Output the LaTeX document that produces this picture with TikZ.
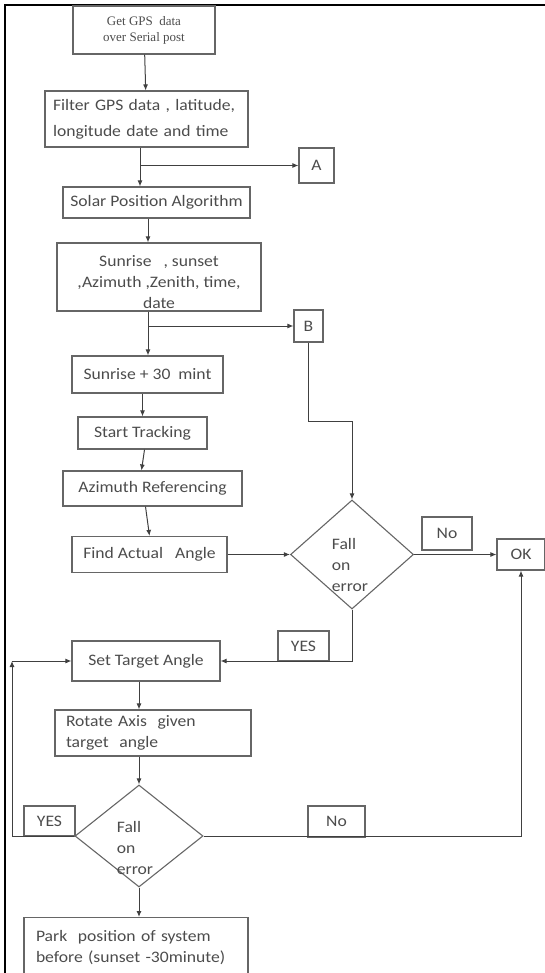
\documentclass[tikz,border=0pt]{standalone}
\usepackage{fontspec}
\setmainfont{Carlito}[FakeStretch=1.1]
\newfontfamily\timesfont{Liberation Serif}
\usetikzlibrary{arrows.meta, positioning, shapes.geometric}

\begin{document}
\begin{tikzpicture}[
    x=1pt, y=-1pt,
    box/.style={draw=black!60, line width=1.1pt, inner sep=0pt, text=black!70, font=\fontsize{16}{21}\selectfont, align=center},
    decision/.style={diamond, draw=black!60, line width=1.1pt, inner sep=0pt},
    dtext/.style={text=black!70, font=\fontsize{16}{21}\selectfont, align=left, inner sep=0pt},
    arr/.style={draw=black!75, line width=1pt, -{Latex[length=6pt,width=5pt]}},
    link/.style={draw=black!75, line width=1pt}
]
    \clip (0,0) rectangle (545,973);
    % page frame
    \draw[black, line width=1.3pt] (5,973) -- (5,5) -- (545,5);

    % upper chain
    \node[box, font=\timesfont\fontsize{13}{16}\selectfont, minimum width=142, minimum height=48] (get) at (144,30) {Get GPS\ \ data\\over Serial post};
    \node[box, font=\fontsize{16}{26}\selectfont, align=left, text width=187, inner xsep=8, minimum height=56] (filter) at (146.5,119) {Filter GPS data , latitude,\\longitude date and time};
    \node[box, minimum width=35, minimum height=35] (A) at (316.5,165.5) {A};
    \node[box, minimum width=187, minimum height=31] (solar) at (156.5,202.5) {Solar Position Algorithm};
    \node[box, text height=64pt, minimum width=204, minimum height=68] (sun) at (159,277) {Sunrise\ \ \ , sunset\\,Azimuth ,Zenith, time,\\date};
    \node[box, minimum width=29, minimum height=32] (B) at (308.5,326) {B};
    \node[box, minimum width=151, minimum height=37] (s30) at (147.5,374.5) {Sunrise + 30\ \ mint};
    \node[box, minimum width=129, minimum height=32] (start) at (142.5,433) {Start Tracking};
    \node[box, minimum width=179, minimum height=35] (azref) at (152.5,488.5) {Azimuth Referencing};
    \node[box, minimum width=155, minimum height=36] (find) at (149.5,554.5) {Find Actual\ \ \ Angle};

    % first check
    \node[decision, minimum width=123, minimum height=109] (d1) at (352,554.5) {};
    \node[dtext] (d1txt) at (350,565) {Fall\\on\\error};
    \node[box, minimum width=50, minimum height=33] (no1) at (447,533.5) {No};
    \node[box, minimum width=48, minimum height=31] (ok) at (521,554.5) {OK};
    \node[box, minimum width=51, minimum height=30] (yes1) at (303.5,646) {YES};

    % lower chain
    \node[box, minimum width=148, minimum height=40] (target) at (146,661) {Set Target Angle};
    \node[box, align=left, text width=174, inner xsep=11, minimum height=46] (rot) at (153,733) {Rotate Axis\ \ given\\target\ \ angle};
    \node[decision, minimum width=128, minimum height=102] (d2) at (139,836) {};
    \node[dtext] (d2txt) at (135,848) {Fall\\on\\error};
    \node[box, minimum width=51, minimum height=30] (yes2) at (49.5,821) {YES};
    \node[box, minimum width=57, minimum height=31] (no2) at (336.5,821.5) {No};
    \node[box, align=left, text width=200, inner xsep=12, minimum height=60, anchor=north] (park) at (136,917) {Park\ \ position of system\\before (sunset -30minute)};

    \coordinate (jA) at (140,165.5);
    \coordinate (jB) at (148,326);
    \coordinate (kB) at (309,421);
    \coordinate (kL) at (12,661);

    \draw[arr] (get) -- (filter);
    \draw[link] (filter.south -| jA) -- (jA);
    \draw[arr] (jA) -- (jA |- solar.north);
    \draw[arr] (jA) -- (A);
    \draw[arr] (solar.south -| jB) -- (sun.north -| jB);
    \draw[link] (sun.south -| jB) -- (jB);
    \draw[arr] (jB) -- (jB |- s30.north);
    \draw[arr] (jB) -- (B);
    \draw[arr] (s30.south -| start) -- (start);
    \draw[arr] ([xshift=2pt]start.south) -- ([xshift=-11pt]azref.north);
    \draw[arr] ([xshift=-7pt]azref.south) -- (find.north);
    \draw[arr] (find) -- (d1);
    \draw[arr] (B) -- (B |- kB) -| (d1);
    \draw[arr] (d1) -- (ok);
    \draw[arr] (d1) |- (target);

    \draw[arr] (target.south -| d2) -- (rot.north -| d2);
    \draw[arr] (rot.south -| d2) -- (d2);
    \draw[arr] (d2) -| (kL);
    \draw[arr] (kL) -- (target);
    \draw[arr] (d2) -| (ok);
    \draw[arr] (d2) -- (park.north -| d2);
\end{tikzpicture}
\end{document}
